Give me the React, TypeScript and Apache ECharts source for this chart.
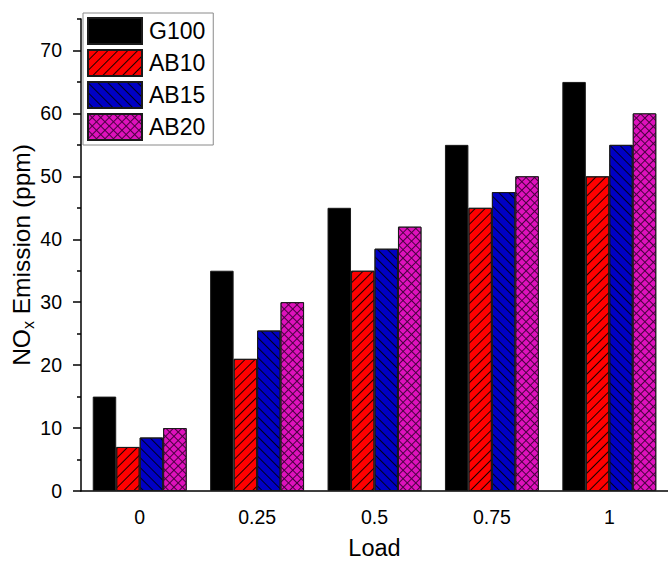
import React, { useEffect, useRef } from "react";
import * as echarts from "echarts";

// Load levels on the x axis
const loads = ["0", "0.25", "0.5", "0.75", "1"];

// NOx emission (ppm) per fuel blend
const g100 = [15, 35, 45, 55, 65];
const ab10 = [7, 21, 35, 45, 50];
const ab15 = [8.5, 25.5, 38.5, 47.5, 55];
const ab20 = [10, 30, 42, 50, 60];

// Y axis tick values
const yMajor = [0, 10, 20, 30, 40, 50, 60, 70];
const yMinor = [5, 15, 25, 35, 45, 55, 65, 75];

const FONT = "'Liberation Sans', Arial, sans-serif";

export default function App() {
  const ref = useRef<HTMLDivElement>(null);

  useEffect(() => {
    if (!ref.current) return;
    const chart = echarts.init(ref.current, undefined, { renderer: "svg" });

    const border = { borderColor: "#1a1a1a", borderWidth: 1 };

    const option: any = {
      animation: false,
      backgroundColor: "#ffffff",
      textStyle: { fontFamily: FONT, color: "#000" },
      grid: { left: 81, right: 0, top: 19, bottom: 71, containLabel: false, outerBoundsMode: "none" },
      legend: {
        orient: "vertical",
        left: 83,
        top: 13,
        padding: [4, 8, 4, 4],
        itemGap: 4,
        itemWidth: 54,
        itemHeight: 26,
        borderColor: "#8a8a8a",
        borderWidth: 1,
        backgroundColor: "#ffffff",
        icon: "rect",
        textStyle: { fontFamily: FONT, fontSize: 23, color: "#000", padding: [0, 0, 0, 2] },
        data: ["G100", "AB10", "AB15", "AB20"],
      },
      xAxis: [
        {
          type: "category",
          data: loads,
          position: "bottom",
          name: "Load",
          nameLocation: "middle",
          nameGap: 46,
          nameMoveOverlap: false,
          nameTextStyle: { fontFamily: FONT, fontSize: 23.5, color: "#000", lineHeight: 22 },
          axisLine: { lineStyle: { color: "#000", width: 1.5 } },
          axisTick: { alignWithLabel: true, length: 8, lineStyle: { color: "#000", width: 1.5 } },
          axisLabel: { margin: 16, fontFamily: FONT, fontSize: 19.5, color: "#000" },
          splitLine: { show: false },
        },
        {
          type: "category",
          data: loads,
          position: "bottom",
          axisLine: { show: false },
          axisTick: { alignWithLabel: false, length: 4, lineStyle: { color: "#000", width: 1.5 } },
          axisLabel: { show: false },
          splitLine: { show: false },
        },
      ],
      yAxis: [
        {
          type: "value",
          min: 0,
          max: 75,
          interval: 10,
          position: "left",
          name: "{a|NO}{s|x}{a| Emission (ppm)}",
          nameLocation: "middle",
          nameGap: 45,
          nameRotate: 90,
          nameMoveOverlap: false,
          nameTextStyle: {
            rich: {
              a: { fontFamily: FONT, fontSize: 24.5, color: "#000", lineHeight: 30 },
              s: { fontFamily: FONT, fontSize: 16, color: "#000", lineHeight: 30, verticalAlign: "bottom", padding: [14, 0, 0, 0] },
            },
          },
          axisLine: { show: true, lineStyle: { color: "#000", width: 1.5 } },
          axisTick: { show: true, length: 8, customValues: yMajor, lineStyle: { color: "#000", width: 1.5 } },
          axisLabel: { margin: 19, customValues: yMajor, fontFamily: FONT, fontSize: 19.5, color: "#000" },
          splitLine: { show: false },
        },
        {
          type: "value",
          min: 0,
          max: 75,
          interval: 5,
          position: "left",
          axisLine: { show: false },
          axisTick: { show: true, length: 4, customValues: yMinor, lineStyle: { color: "#000", width: 1.5 } },
          axisLabel: { show: false },
          splitLine: { show: false },
        },
      ],
      series: [
        {
          name: "G100",
          type: "bar",
          data: g100,
          barGap: "0%",
          barCategoryGap: "20%",
          itemStyle: { color: "#000000", ...border },
        },
        {
          name: "AB10",
          type: "bar",
          data: ab10,
          barGap: "0%",
          barCategoryGap: "20%",
          itemStyle: {
            color: "#ff0000",
            ...border,
            decal: {
              symbol: "rect",
              symbolSize: 1,
              color: "#1a0000",
              dashArrayX: [1, 0],
              dashArrayY: [1, 6],
              rotation: -Math.PI / 4,
            },
          },
        },
        {
          name: "AB15",
          type: "bar",
          data: ab15,
          barGap: "0%",
          barCategoryGap: "20%",
          itemStyle: {
            color: "#0000c4",
            ...border,
            decal: {
              symbol: "rect",
              symbolSize: 1,
              color: "#000020",
              dashArrayX: [1, 0],
              dashArrayY: [1, 6],
              rotation: Math.PI / 4,
            },
          },
        },
        {
          name: "AB20",
          type: "bar",
          data: ab20,
          barGap: "0%",
          barCategoryGap: "20%",
          itemStyle: {
            color: "#4a0040",
            ...border,
            decal: {
              symbol: "rect",
              symbolSize: 1,
              color: "#de12bc",
              dashArrayX: [5, 1],
              dashArrayY: [5, 1],
              rotation: Math.PI / 4,
            },
          },
        },
      ],
    };

    chart.setOption(option);
    return () => chart.dispose();
  }, []);

  return (
    <div
      ref={ref}
      style={{ position: "absolute", left: 0, top: 0, width: 668, height: 562 }}
    />
  );
}
